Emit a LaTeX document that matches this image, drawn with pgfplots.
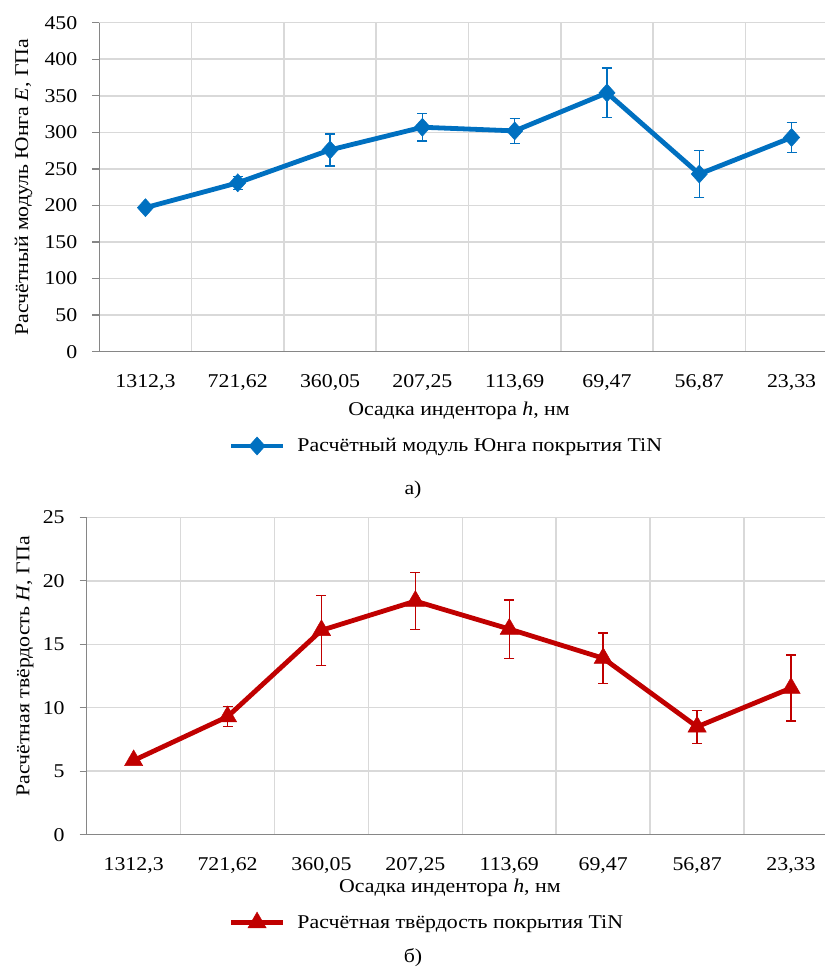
\documentclass[border=0pt]{standalone}
\usepackage{fontspec}
\setmainfont{Liberation Serif}[FakeStretch=1.12]
\usepackage{pgfplots}
\pgfplotsset{compat=1.18}
\definecolor{eblue}{HTML}{0070C0}
\definecolor{ered}{HTML}{C00000}
\definecolor{gridc}{HTML}{D9D9D9}
\definecolor{axc}{HTML}{868686}
\pgfplotsset{
  common/.style={
    scale only axis,
    font=\fontsize{19.5}{23}\selectfont,
    /pgf/number format/assume math mode=true,
    axis x line*=bottom, axis y line*=left,
    axis line style={axc, line width=1.3pt},
    xmin=-0.5, xmax=7.362,
    xtick={0,1,2,3,4,5,6,7},
    xticklabels={{1312,3},{721,62},{360,05},{207,25},{113,69},{69,47},{56,87},{23,33}},
    xtick style={draw=none},
    minor xtick={0.5,1.5,2.5,3.5,4.5,5.5,6.5},
    xminorgrids=true, ymajorgrids=true,
    grid style={gridc, line width=1.5pt},
    minor grid style={gridc, line width=1.5pt},
    tick align=outside, major tick length=7pt, minor tick length=0pt,
    ytick style={axc, line width=1.3pt},
    xticklabel style={yshift=-12pt},
    yticklabel style={xshift=-11.5pt},
    legend cell align=left,
    legend style={draw=none, fill=none, anchor=west, inner sep=0pt, column sep=10pt},
    legend image code/.code={\draw[#1,mark repeat=2,mark phase=2] plot coordinates {(0pt,0pt) (26pt,0pt) (52pt,0pt)};},
  },
}
\begin{document}
\begin{tikzpicture}[font=\fontsize{19.5}{23}\selectfont]
\path[use as bounding box] (0,0) rectangle (825pt,974pt);
\begin{axis}[common,
  at={(99.3pt,622.3pt)}, anchor=south west,
  width=725.7pt, height=329pt,
  ymin=0, ymax=450, ytick={0,50,100,150,200,250,300,350,400,450},
  xlabel={Осадка индентора \textit{h}, нм},
  xlabel style={at={(axis description cs:0.4957,-0.18)}, anchor=center},
  ylabel={Расчётный модуль Юнга \textit{E}, ГПа},
  ylabel style={at={(axis description cs:-0.1045,0.5)}, anchor=center},
  legend style={at={(axis description cs:0.178,-0.2866)}},
]
\addplot[eblue, line width=4.8pt, mark=diamond*, mark size=9pt,
  mark options={solid, line width=0.5pt, xscale=1.2},
  error bars/.cd, y dir=both, y explicit,
  error bar style={line width=1.4pt, eblue},
  error mark options={rotate=90, mark size=5pt, line width=1.4pt, eblue}]
  table[x=x, y=y, y error=e] {
x y e
0 197 3
1 231 9
2 276 22
3 307 19
4 302 17
5 354 34
6 243 32.5
7 293 20.5
};
\addlegendentry{Расчётный модуль Юнга покрытия TiN}
\end{axis}
\begin{axis}[common,
  at={(86.7pt,139.3pt)}, anchor=south west,
  width=738.3pt, height=317.4pt,
  ymin=0, ymax=25, ytick={0,5,10,15,20,25},
  xlabel={Осадка индентора \textit{h}, нм},
  xlabel style={at={(axis description cs:0.492,-0.168)}, anchor=center},
  ylabel={Расчётная твёрдость \textit{H}, ГПа},
  ylabel style={at={(axis description cs:-0.0836,0.53)}, anchor=center},
  legend style={at={(axis description cs:0.192,-0.275)}},
]
\addplot[ered, line width=4.8pt, mark=triangle*, mark size=10.5pt,
  mark options={solid, line width=0.5pt},
  error bars/.cd, y dir=both, y explicit,
  error bar style={line width=1.4pt, ered},
  error mark options={rotate=90, mark size=5pt, line width=1.4pt, ered}]
  table[x=x, y=y, y error=e] {
x y e
0 5.85 0.2
1 9.3 0.8
2 16.1 2.75
3 18.4 2.25
4 16.2 2.3
5 13.9 2.0
6 8.5 1.3
7 11.55 2.6
};
\addlegendentry{Расчётная твёрдость покрытия TiN}
\end{axis}
\node at (413pt,484pt) {а)};
\node at (413pt,16pt) {б)};
\end{tikzpicture}
\end{document}
